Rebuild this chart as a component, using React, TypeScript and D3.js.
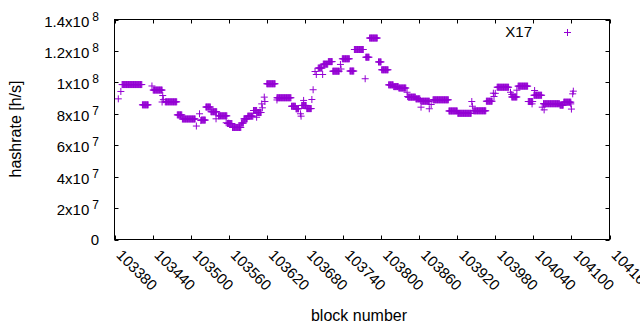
import React from 'react';
import * as d3 from 'd3';

// Runs of consecutive blocks sharing the same hashrate (value in units of 1e7 h/s)
const runStart = [103392, 103424, 103441, 103460, 103479, 103487, 103517, 103524, 103532, 103544, 103558, 103566, 103580, 103584, 103590, 103599, 103605, 103620, 103636, 103659, 103666, 103675, 103683, 103701, 103709, 103717, 103724, 103739, 103751, 103758, 103776, 103782, 103796, 103801, 103812, 103820, 103828, 103843, 103855, 103864, 103882, 103907, 103921, 103946, 103966, 103983, 104006, 104016, 104032, 104041, 104056, 104082, 104088];
const runEnd = [103423, 103433, 103455, 103478, 103486, 103507, 103523, 103531, 103541, 103557, 103565, 103579, 103583, 103589, 103598, 103604, 103611, 103633, 103658, 103665, 103670, 103682, 103690, 103707, 103716, 103723, 103734, 103750, 103757, 103772, 103781, 103794, 103800, 103811, 103819, 103827, 103839, 103854, 103861, 103876, 103906, 103920, 103942, 103965, 103975, 104001, 104014, 104031, 104039, 104053, 104081, 104087, 104099];
const runValue = [9.86, 8.57, 9.51, 8.76, 7.93, 7.67, 7.60, 8.43, 8.13, 7.87, 7.38, 7.13, 7.41, 7.68, 7.85, 8.21, 8.08, 9.91, 9.02, 8.48, 8.32, 8.53, 8.33, 10.91, 11.16, 11.32, 10.71, 11.50, 10.72, 12.09, 11.60, 12.82, 11.30, 10.80, 9.84, 9.73, 9.64, 9.06, 8.95, 8.80, 8.89, 8.18, 8.03, 8.19, 8.80, 9.69, 9.07, 9.76, 8.78, 9.18, 8.64, 8.55, 8.74];

// Isolated blocks
const pointBlock = [103386, 103390, 103439, 103455, 103456, 103457, 103509, 103514, 103516, 103540, 103556, 103560, 103604, 103612, 103613, 103616, 103617, 103636, 103673, 103674, 103678, 103691, 103693, 103696, 103698, 103708, 103736, 103737, 103775, 103841, 103842, 103862, 103863, 103876, 103879, 103943, 103944, 103977, 103978, 103980, 104004, 104006, 104014, 104038, 104042, 104054, 104057, 104099, 104100, 104102, 104103];
const pointValue = [8.95, 9.42, 9.77, 8.75, 9.16, 8.90, 7.22, 8.00, 7.57, 7.68, 7.43, 7.40, 7.78, 8.63, 8.38, 9.06, 8.78, 8.88, 8.00, 7.85, 8.85, 8.91, 9.53, 10.69, 10.50, 10.50, 11.14, 10.85, 10.23, 9.37, 9.10, 8.85, 8.42, 8.32, 8.59, 8.78, 8.48, 9.31, 9.10, 9.30, 9.37, 9.23, 9.50, 8.63, 9.48, 8.42, 8.25, 8.63, 8.30, 9.27, 9.44];

const xTicks = [103380, 103440, 103500, 103560, 103620, 103680, 103740, 103800, 103860, 103920, 103980, 104040, 104100, 104160];
const yTicks = [0, 2e7, 4e7, 6e7, 8e7, 1e8, 1.2e8, 1.4e8];
const seriesName = 'X17';
const xLabel = 'block number';
const yLabel = 'hashrate [h/s]';

const COLOR = '#9400d3';
const FONT = '"Liberation Sans", Arial, sans-serif';

export default function App() {
  const W = 640, H = 330;
  const L = 114.5, R = 609.5, T = 19.5, B = 239.5;
  const x = d3.scaleLinear().domain([103380, 104160]).range([L, R]);
  const y = d3.scaleLinear().domain([0, 1.4e8]).range([B, T]);

  const pts: [number, number][] = [];
  runStart.forEach((s, i) => {
    for (let b = s; b <= runEnd[i]; b++) pts.push([b, runValue[i] * 1e7]);
  });
  pointBlock.forEach((b, i) => pts.push([b, pointValue[i] * 1e7]));

  const hs = 3.5;
  const plus = (cx: number, cy: number) => `M${cx - hs},${cy}h${2 * hs}M${cx},${cy - hs}v${2 * hs}`;
  const path = pts.map(([b, v]) => plus(x(b), y(v))).join('');

  const tl = 4;
  const fs = 15;
  const fsLab = 16;

  const yLab = (v: number) => {
    if (v === 0) return { m: '0', e: '' };
    const e = Math.floor(Math.log10(v) + 1e-9);
    const m = +(v / Math.pow(10, e)).toFixed(1);
    return { m: `${m}x10`, e: `${e}` };
  };

  return (
    <svg width={W} height={H} style={{ position: 'absolute', left: 0, top: 0, background: '#fff' }} fontFamily={FONT}>
      <rect x={0} y={0} width={W} height={H} fill="#fff" />
      {/* ticks */}
      <g stroke="#000" strokeWidth={1}>
        {xTicks.map((t) => (
          <g key={'xt' + t}>
            <line x1={Math.round(x(t)) + 0.5} x2={Math.round(x(t)) + 0.5} y1={B} y2={B - tl} />
            <line x1={Math.round(x(t)) + 0.5} x2={Math.round(x(t)) + 0.5} y1={T} y2={T + tl} />
          </g>
        ))}
        {yTicks.map((t) => (
          <g key={'yt' + t}>
            <line x1={L} x2={L + tl} y1={Math.round(y(t)) + 0.5} y2={Math.round(y(t)) + 0.5} />
            <line x1={R} x2={R - tl} y1={Math.round(y(t)) + 0.5} y2={Math.round(y(t)) + 0.5} />
          </g>
        ))}
      </g>
      {/* data */}
      <path d={path} stroke={COLOR} strokeWidth={1} fill="none" />
      {/* border */}
      <rect x={L} y={T} width={R - L} height={B - T} fill="none" stroke="#000" strokeWidth={1} />
      {/* y tick labels */}
      {yTicks.map((t) => {
        const { m, e } = yLab(t);
        return (
          <text key={'yl' + t} x={99} y={y(t) + (e ? 7 : 5.5)} textAnchor="end" fontSize={fs} fill="#000">
            {m}
            {e && <tspan dx={3} dy={-6} fontSize={12}>{e}</tspan>}
          </text>
        );
      })}
      {/* x tick labels */}
      {xTicks.map((t) => (
        <text key={'xl' + t} transform={`translate(${x(t) + 1},${256}) rotate(45)`} fontSize={fs} fill="#000">
          {t}
        </text>
      ))}
      {/* axis labels */}
      <text x={359} y={321} textAnchor="middle" fontSize={fsLab} fill="#000">{xLabel}</text>
      <text transform={`translate(21,129) rotate(-90)`} textAnchor="middle" fontSize={fsLab} fill="#000">{yLabel}</text>
      {/* legend */}
      <text x={532} y={37} textAnchor="end" fontSize={fs} fill="#000">{seriesName}</text>
      <path d={plus(567.5, 32.5)} stroke={COLOR} strokeWidth={1} fill="none" />
    </svg>
  );
}
